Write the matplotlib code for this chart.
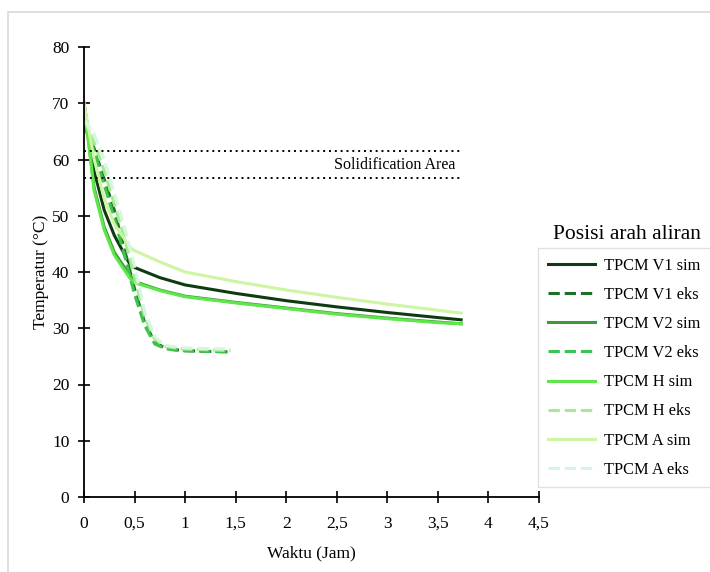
import matplotlib.pyplot as plt
from matplotlib.patches import Rectangle
from matplotlib.ticker import FuncFormatter

# simulation curves (hours, deg C)
t_sim = [0, 0.1, 0.2, 0.3, 0.45, 0.5, 0.75, 1.0, 1.5, 2.0, 2.5, 3.0, 3.5, 3.73]
v1_sim = [70, 58, 51, 46.5, 41.5, 40.8, 39.0, 37.7, 36.2, 34.9, 33.8, 32.8, 31.9, 31.5]
v2_sim = [70, 55, 48, 43.5, 39.5, 38.3, 36.8, 35.7, 34.6, 33.6, 32.6, 31.8, 31.1, 30.8]
h_sim = [70, 54.5, 47.5, 43, 39, 38.1, 36.7, 35.6, 34.5, 33.5, 32.5, 31.7, 31.0, 30.8]
a_sim = [70, 60, 53, 48.5, 44.5, 43.8, 41.8, 40.0, 38.3, 36.8, 35.5, 34.3, 33.2, 32.7]

# experiment curves
t_eks = [0, 0.1, 0.2, 0.3, 0.4, 0.5, 0.6, 0.7, 0.8, 0.9, 1.0, 1.2, 1.45]
v1_eks = [66, 62, 56.5, 51, 44, 37, 31, 27.5, 26.5, 26.2, 26.0, 25.9, 25.8]
v2_eks = [66, 61.5, 55.5, 49.5, 43, 36, 30.5, 27.2, 26.4, 26.1, 26.0, 25.9, 25.8]
h_eks = [67, 63, 58, 52, 46, 39, 32, 28, 26.8, 26.5, 26.3, 26.2, 26.0]
a_eks = [67, 64.5, 60, 54, 48, 41, 33, 28.5, 27, 26.7, 26.5, 26.4, 26.3]

solid_lo, solid_hi = 56.7, 61.5
solid_end = 3.72

plt.rcParams['font.family'] = ['Liberation Serif', 'DejaVu Serif']

fig = plt.figure(figsize=(7.1, 5.72), dpi=100)
# light outer frame of the chart area
fig.patches.append(Rectangle((8 / 710, -0.1), 1.1, 1 - 12 / 572 + 0.1,
                             transform=fig.transFigure, fill=False,
                             edgecolor='#d9d9d9', lw=1.2))
ax = fig.add_axes([84 / 710, 1 - 497 / 572, 455 / 710, 450 / 572])

series = [
    (t_sim, v1_sim, '#0e3b10', '-', 'TPCM V1 sim'),
    (t_eks, v1_eks, '#1f6f27', '--', 'TPCM V1 eks'),
    (t_sim, v2_sim, '#3d9a3b', '-', 'TPCM V2 sim'),
    (t_eks, v2_eks, '#3cc44e', '--', 'TPCM V2 eks'),
    (t_sim, h_sim, '#5ee64a', '-', 'TPCM H sim'),
    (t_eks, h_eks, '#a6ea92', '--', 'TPCM H eks'),
    (t_sim, a_sim, '#cdf5a4', '-', 'TPCM A sim'),
    (t_eks, a_eks, '#d6f6df', '--', 'TPCM A eks'),
]
for x, y, c, ls, lab in series:
    ax.plot(x, y, color=c, ls=ls, lw=2.2, label=lab)

for yv in (solid_lo, solid_hi):
    ax.plot([0, solid_end], [yv, yv], color='black', ls=(0, (1, 2)), lw=1.4)
ax.text(3.67, (solid_lo + solid_hi) / 2, 'Solidification Area', ha='right',
        va='center', fontsize=11.5)

ax.set_xlim(0, 4.5)
ax.set_ylim(0, 80)
ax.set_xticks([0, 0.5, 1, 1.5, 2, 2.5, 3, 3.5, 4, 4.5])
ax.set_yticks(range(0, 81, 10))
ax.xaxis.set_major_formatter(FuncFormatter(lambda v, p: f'{v:g}'.replace('.', ',')))
for s in ('top', 'right'):
    ax.spines[s].set_visible(False)
for s in ('left', 'bottom'):
    ax.spines[s].set_linewidth(1.3)
ax.tick_params(direction='inout', length=9, width=1.2, labelsize=12.5, pad=6)
ax.tick_params(axis='x', pad=9)
ax.set_xlabel('Waktu (Jam)', fontsize=12.5, labelpad=10)
ax.set_ylabel('Temperatur (°C)', fontsize=12.5, labelpad=2)

leg = ax.legend(loc='upper left', bbox_to_anchor=(538 / 710, 1 - 248 / 572, 0.3, 0),
                bbox_transform=fig.transFigure, mode='expand', frameon=True,
                fancybox=False, edgecolor='#d9d9d9', fontsize=11.8,
                handlelength=2.9, handletextpad=0.5, labelspacing=0.8,
                borderaxespad=0, borderpad=0.6)
leg.get_frame().set_linewidth(1.0)
fig.text(627 / 710, 1 - 234 / 572, 'Posisi arah aliran', ha='center',
         va='center', fontsize=15.5)

fig.savefig('out.png', dpi=100)
